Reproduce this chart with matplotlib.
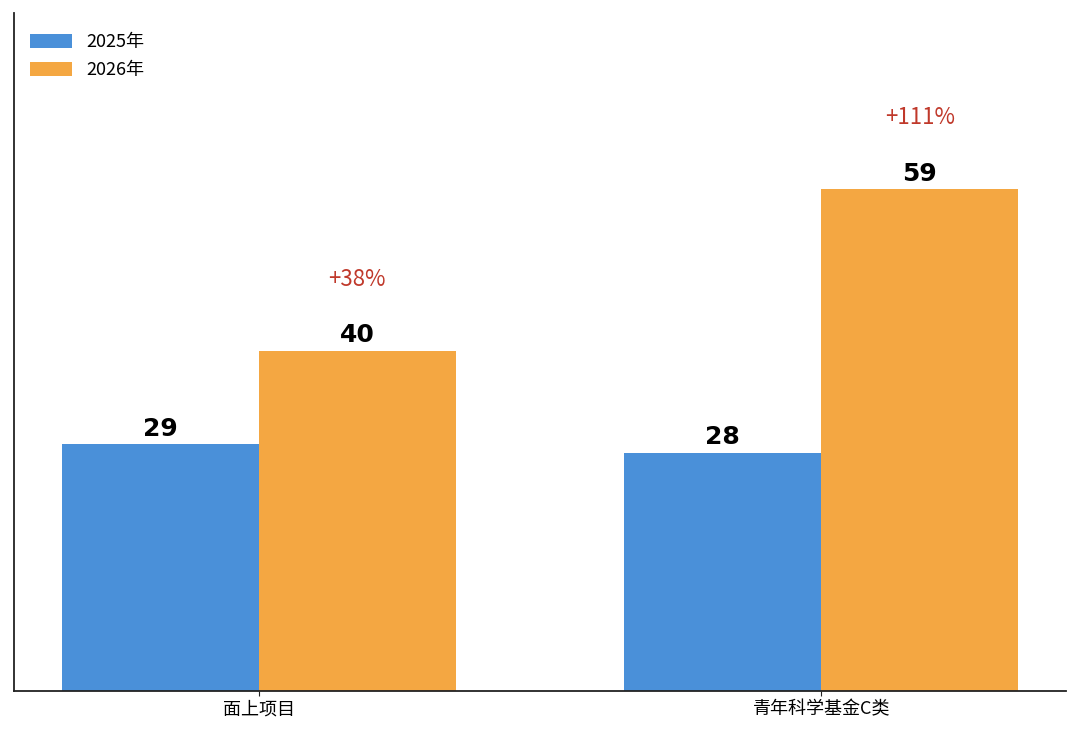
import numpy as np
import matplotlib
matplotlib.use('Agg')
import matplotlib.pyplot as plt

plt.rcParams['font.family'] = ['Noto Sans CJK SC', 'DejaVu Sans']

# Data
CATEGORIES = ['面上项目', '青年科学基金C类']
SERIES = ['2025年', '2026年']
VALUES_2025 = [29, 28]
VALUES_2026 = [40, 59]
GROWTH = ['+38%', '+111%']

COLORS = ['#4A90D9', '#F4A742']


def main():
    fig = plt.figure(figsize=(10.8, 7.39), dpi=100)
    ax = fig.add_axes([0.013, 0.065, 0.974, 0.917])

    x = np.arange(len(CATEGORIES))
    width = 0.35

    b1 = ax.bar(x - width / 2, VALUES_2025, width, color=COLORS[0], label=SERIES[0])
    b2 = ax.bar(x + width / 2, VALUES_2026, width, color=COLORS[1], label=SERIES[1])

    # value labels on top of bars
    for bars in (b1, b2):
        for rect in bars:
            h = rect.get_height()
            ax.text(rect.get_x() + rect.get_width() / 2, h + 0.4, f"{int(h)}",
                    ha='center', va='bottom', fontsize=18, fontweight='bold',
                    family='DejaVu Sans', color='black')

    # growth annotations above the 2026 bars
    for rect, g in zip(b2, GROWTH):
        ax.text(rect.get_x() + rect.get_width() / 2, rect.get_height() + 8.4, g,
                ha='center', va='center', fontsize=16, color='#C0392B')

    ax.set_xticks(x)
    ax.set_xticklabels(CATEGORIES, fontsize=13)
    ax.set_yticks([])
    ax.set_ylim(0, max(VALUES_2026) * 1.35)

    ax.spines['top'].set_visible(False)
    ax.spines['right'].set_visible(False)
    for side in ('left', 'bottom'):
        ax.spines[side].set_color('#222222')
        ax.spines[side].set_linewidth(1.3)
    ax.tick_params(axis='x', color='#222222')

    ax.legend(loc='upper left', frameon=False, fontsize=13, handlelength=2.3,
              handleheight=0.8, labelspacing=0.55, bbox_to_anchor=(0.0, 0.995))

    fig.savefig('out.png', dpi=100)
    plt.close(fig)


if __name__ == '__main__':
    main()
